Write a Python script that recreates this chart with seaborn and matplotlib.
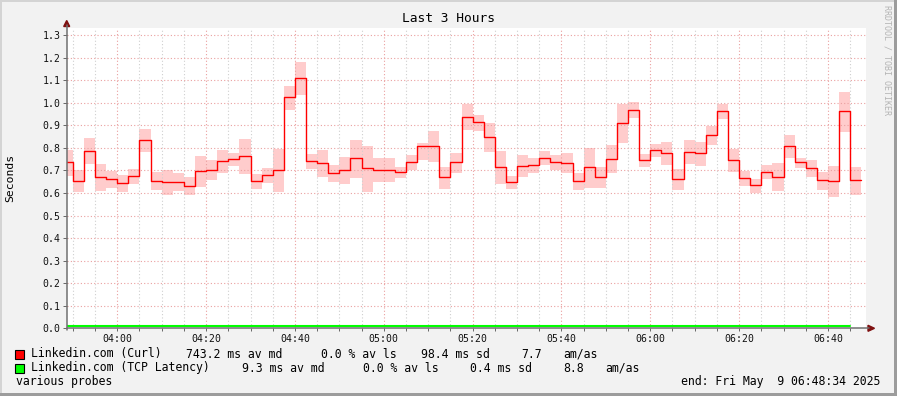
import matplotlib
matplotlib.use("Agg")
import matplotlib.pyplot as plt
import matplotlib.dates as mdates
from matplotlib.patches import Rectangle, Polygon
from matplotlib.lines import Line2D
import numpy as np
import pandas as pd
import seaborn as sns

# ---------------- data ----------------
title = "Last 3 Hours"
y_label = "Seconds"
step_start = "2025-05-09 03:47:30"
step_seconds = 150
view_start = "2025-05-09 03:48:34"
view_end = "2025-05-09 06:48:34"

curl_median = [0.736, 0.652, 0.785, 0.670, 0.661, 0.643, 0.674, 0.834, 0.652, 0.647,
               0.647, 0.630, 0.696, 0.700, 0.740, 0.749, 0.763, 0.652, 0.678, 0.700,
               1.024, 1.109, 0.740, 0.732, 0.687, 0.700, 0.754, 0.709, 0.700, 0.700,
               0.692, 0.736, 0.807, 0.807, 0.670, 0.736, 0.936, 0.915, 0.847, 0.714,
               0.647, 0.718, 0.723, 0.754, 0.736, 0.732, 0.652, 0.714, 0.670, 0.749,
               0.909, 0.967, 0.745, 0.789, 0.776, 0.661, 0.780, 0.776, 0.856, 0.962,
               0.745, 0.665, 0.634, 0.692, 0.670, 0.807, 0.736, 0.709, 0.656, 0.652,
               0.962, 0.656]
curl_low = [0.677, 0.606, 0.729, 0.610, 0.624, 0.606, 0.640, 0.783, 0.615, 0.591,
            0.610, 0.591, 0.628, 0.658, 0.689, 0.720, 0.684, 0.618, 0.644, 0.604,
            0.968, 1.035, 0.706, 0.672, 0.650, 0.640, 0.668, 0.606, 0.650, 0.650,
            0.668, 0.703, 0.745, 0.739, 0.619, 0.689, 0.881, 0.876, 0.783, 0.641,
            0.619, 0.672, 0.690, 0.726, 0.703, 0.690, 0.615, 0.624, 0.624, 0.689,
            0.823, 0.934, 0.717, 0.761, 0.726, 0.615, 0.730, 0.721, 0.813, 0.928,
            0.694, 0.632, 0.600, 0.662, 0.610, 0.757, 0.712, 0.672, 0.615, 0.584,
            0.872, 0.593]
curl_high = [0.790, 0.702, 0.843, 0.729, 0.699, 0.680, 0.706, 0.884, 0.693, 0.700,
             0.689, 0.671, 0.764, 0.746, 0.790, 0.776, 0.839, 0.684, 0.711, 0.796,
             1.074, 1.181, 0.773, 0.790, 0.724, 0.760, 0.835, 0.807, 0.755, 0.755,
             0.714, 0.769, 0.822, 0.875, 0.714, 0.777, 0.995, 0.945, 0.910, 0.785,
             0.675, 0.767, 0.755, 0.785, 0.769, 0.776, 0.689, 0.798, 0.714, 0.813,
             0.995, 1.004, 0.773, 0.816, 0.826, 0.706, 0.835, 0.826, 0.898, 0.995,
             0.796, 0.699, 0.662, 0.724, 0.733, 0.857, 0.757, 0.746, 0.693, 0.720,
             1.048, 0.715]
tcp_median = [0.0093, 0.0093, 0.0093, 0.0093, 0.0093, 0.0093, 0.0093, 0.0093, 0.0093, 0.0093,
              0.0093, 0.0093, 0.0093, 0.0093, 0.0093, 0.0093, 0.0093, 0.0093, 0.0093, 0.0093,
              0.0093, 0.0093, 0.0093, 0.0093, 0.0093, 0.0093, 0.0093, 0.0093, 0.0093, 0.0093,
              0.0093, 0.0093, 0.0093, 0.0093, 0.0093, 0.0093, 0.0093, 0.0093, 0.0093, 0.0093,
              0.0093, 0.0093, 0.0093, 0.0093, 0.0093, 0.0093, 0.0093, 0.0093, 0.0093, 0.0093,
              0.0093, 0.0093, 0.0093, 0.0093, 0.0093, 0.0093, 0.0093, 0.0093, 0.0093, 0.0093,
              0.0093, 0.0093, 0.0093, 0.0093, 0.0093, 0.0093, 0.0093, 0.0093, 0.0093, 0.0093,
              0.0093]

legend_rows = [
    ["Linkedin.com (Curl)", "743.2 ms av md", "0.0 % av ls", "98.4 ms sd", "7.7", "am/as"],
    ["Linkedin.com (TCP Latency)", "9.3 ms av md", "0.0 % av ls", "0.4 ms sd", "8.8", "am/as"],
]
legend_colors = ["#ff0000", "#00ff00"]
footer_left = "various probes"
footer_right = "end: Fri May  9 06:48:34 2025"
credit = "RRDTOOL / TOBI OETIKER"

# ---------------- layout ----------------
W, H = 897, 396
BG = "#f2f2f2"

sns.set_style("white")
plt.rcParams['font.family'] = ['DejaVu Sans Mono', 'DejaVu Sans']

def fx(px):
    return px / W

def fy(py):
    return 1 - py / H

fig = plt.figure(figsize=(W / 100, H / 100), dpi=100, facecolor=BG)
ax = fig.add_axes([fx(66.5), fy(328.3), 799.5 / W, 300.3 / H])
ax.set_facecolor("white")

n = len(curl_median)
edges = pd.date_range(step_start, periods=n + 1, freq=f"{step_seconds}s")
curl_df = pd.DataFrame({
    "time": edges,
    "median": curl_median + curl_median[-1:],
    "low": curl_low + curl_low[-1:],
    "high": curl_high + curl_high[-1:],
})
m = len(tcp_median)
tcp_df = pd.DataFrame({"time": edges[:m + 1], "median": tcp_median + tcp_median[-1:]})

ax.fill_between(curl_df["time"].dt.to_pydatetime(), curl_df["low"], curl_df["high"],
                step="post", color="#ffcccc", lw=0, zorder=1)
sns.lineplot(data=curl_df, x="time", y="median", ax=ax, color="#ff0000", lw=1.0,
             drawstyle="steps-post", estimator=None, zorder=3)
sns.lineplot(data=tcp_df, x="time", y="median", ax=ax, color="#00ff00", lw=1.5,
             drawstyle="steps-post", estimator=None, zorder=3)

ax.set_xlim(pd.Timestamp(view_start), pd.Timestamp(view_end))
ax.set_ylim(0, 300.3 / 225.5)
ax.set_xlabel("")
ax.set_ylabel("")

ax.xaxis.set_major_locator(mdates.MinuteLocator(byminute=[0, 20, 40]))
ax.xaxis.set_minor_locator(mdates.MinuteLocator(byminute=range(0, 60, 5)))
ax.xaxis.set_major_formatter(mdates.DateFormatter("%H:%M"))
ax.set_yticks(np.arange(0, 1.31, 0.1))
ax.yaxis.set_major_formatter(matplotlib.ticker.FormatStrFormatter("%.1f"))

ax.set_axisbelow("line")
dot = (0, (1, 2))
ax.grid(which="major", axis="x", color="#eaa0a0", ls=dot, lw=0.8, zorder=2)
ax.grid(which="minor", axis="x", color="#cfcfcf", ls=dot, lw=0.8, zorder=2)
ax.grid(which="major", axis="y", color="#eaa0a0", ls=dot, lw=0.8, zorder=2)

ax.tick_params(axis="y", which="major", length=3, width=0.7, color="#666666",
               labelsize=7.1, pad=1.5, labelcolor="#111111", left=True)
ax.tick_params(axis="x", which="both", length=2.5, width=0.7, color="#666666",
               labelsize=7.1, pad=1.5, labelcolor="#111111", bottom=True)
for s in ax.spines.values():
    s.set_visible(False)

# axis lines with arrows (rrdtool style)
axis_col = "#707070"
arrow_col = "#7f1010"
fig.add_artist(Line2D([fx(66.7), fx(869)], [fy(328.3), fy(328.3)], color=axis_col, lw=1.1,
                      transform=fig.transFigure))
fig.add_artist(Line2D([fx(66.7), fx(66.7)], [fy(330), fy(25)], color=axis_col, lw=1.1,
                      transform=fig.transFigure))
fig.add_artist(Polygon([[fx(868), fy(325.3)], [fx(874.5), fy(328.3)], [fx(868), fy(331.3)]],
                       closed=True, color=arrow_col, transform=fig.transFigure))
fig.add_artist(Polygon([[fx(63.7), fy(26.5)], [fx(66.7), fy(20.5)], [fx(69.7), fy(26.5)]],
                       closed=True, color=arrow_col, transform=fig.transFigure))

# texts
fig.text(fx(448), fy(19), title, ha="center", va="center", fontsize=9.3, color="#000000")
fig.text(fx(10), fy(178), y_label, ha="center", va="center", rotation=90, fontsize=8.2,
         color="#000000")
fig.text(fx(887), fy(60), credit, ha="center", va="center", rotation=270, fontsize=6,
         color="#b4b4b4")

col_x = [[30.7, 186, 321, 421, 521.5, 563.3], [30.7, 242.3, 363.3, 470, 563.3, 605]]
row_y = [354, 368]
for r, (row, color) in enumerate(zip(legend_rows, legend_colors)):
    yy = row_y[r]
    fig.add_artist(Rectangle((fx(15.2), fy(yy + 4.5)), 8.6 / W, 9 / H, facecolor=color,
                             edgecolor="#000000", lw=0.8, transform=fig.transFigure))
    for xpos, txt in zip(col_x[r], row):
        fig.text(fx(xpos), fy(yy), txt, ha="left", va="center", fontsize=8.3,
                 color="#000000")

fig.text(fx(16), fy(382), footer_left, ha="left", va="center", fontsize=8.3, color="#000000")
fig.text(fx(880.5), fy(382), footer_right, ha="right", va="center", fontsize=8.3,
         color="#000000")

# frame (3D-ish border)
fig.add_artist(Rectangle((0, fy(2)), 1, 2 / H, facecolor="#d4d4d4", lw=0,
                         transform=fig.transFigure))
fig.add_artist(Rectangle((0, 0), 2 / W, 1, facecolor="#d4d4d4", lw=0,
                         transform=fig.transFigure))
fig.add_artist(Rectangle((0, 0), 1, 3 / H, facecolor="#9c9c9c", lw=0,
                         transform=fig.transFigure))
fig.add_artist(Rectangle((fx(894), 0), 3 / W, 1, facecolor="#9c9c9c", lw=0,
                         transform=fig.transFigure))

fig.savefig("out.png", dpi=100, facecolor=BG)
